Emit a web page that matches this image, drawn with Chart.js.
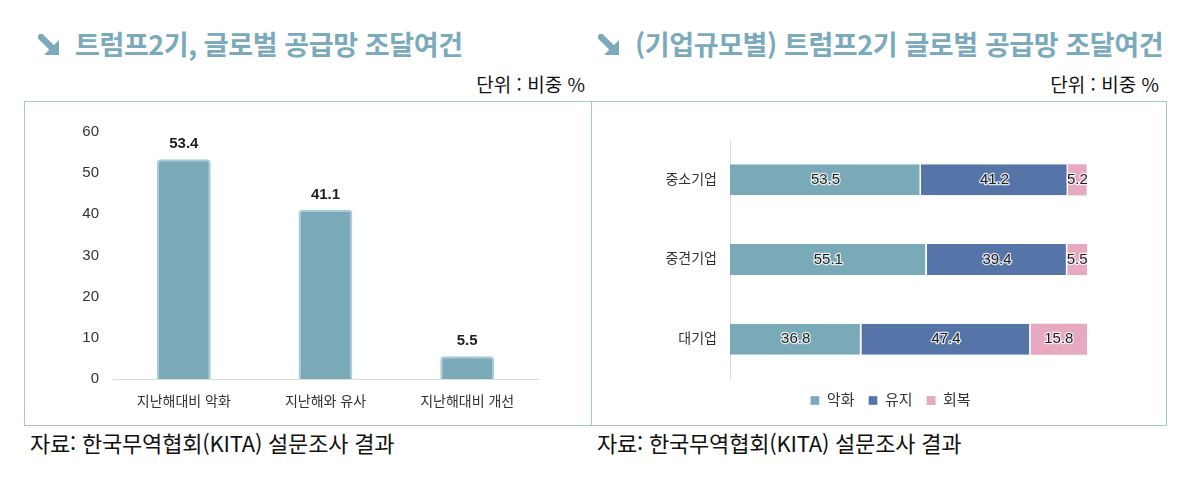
<!DOCTYPE html>
<html lang="ko">
<head>
<meta charset="utf-8">
<script src="https://cdn.jsdelivr.net/npm/chart.js@4.4.1/dist/chart.umd.min.js"></script>
<style>
  html, body { margin: 0; padding: 0; background: #fff; }
  body { width: 1200px; height: 485px; position: relative; overflow: hidden; font-family: "Noto Sans CJK KR", sans-serif; }
  .title { position: absolute; top: 24px; font-size: 27px; font-weight: 700; color: #7aaabb; letter-spacing: -0.4px; white-space: nowrap; }
  .title svg { position: absolute; left: -37px; top: 10px; }
  .unit { position: absolute; top: 70px; font-size: 19px; color: #111; white-space: nowrap; }
  .frame { position: absolute; left: 24px; top: 101px; width: 1141px; height: 323px; border: 1.5px solid #a3c8d4; }
  .divider { position: absolute; left: 591px; top: 101px; width: 0; height: 325px; border-left: 1.5px solid #a3c8d4; }
  .src { position: absolute; top: 426px; font-size: 22px; color: #111; white-space: nowrap; letter-spacing: -0.2px; }
  canvas { position: absolute; }
</style>
</head>
<body>

<div class="title" style="left:75px;">
  <svg width="22" height="22" viewBox="0 0 22 22"><path d="M3 3 L13 13" stroke="#7aaabb" stroke-width="6.5" stroke-linecap="square" fill="none"/><path d="M21 6 L21 21 L6 21 Z" fill="#7aaabb"/></svg>트럼프2기, 글로벌 공급망 조달여건</div>
<div class="title" style="left:635px;">
  <svg width="22" height="22" viewBox="0 0 22 22"><path d="M3 3 L13 13" stroke="#7aaabb" stroke-width="6.5" stroke-linecap="square" fill="none"/><path d="M21 6 L21 21 L6 21 Z" fill="#7aaabb"/></svg>(기업규모별) 트럼프2기 글로벌 공급망 조달여건</div>

<div class="unit" style="right:615px;">단위 : 비중 %</div>
<div class="unit" style="right:41px;">단위 : 비중 %</div>

<div class="frame"></div>
<div class="divider"></div>

<canvas id="leftChart" style="left:25px; top:102px;"></canvas>
<canvas id="rightChart" style="left:593px; top:102px;"></canvas>

<div class="src" style="left:30px;">자료: 한국무역협회(KITA) 설문조사 결과</div>
<div class="src" style="left:597px;">자료: 한국무역협회(KITA) 설문조사 결과</div>

<script>
// left chart: overall
const trendLabels = ['지난해대비 악화', '지난해와 유사', '지난해대비 개선'];
const trendValues = [53.4, 41.1, 5.5];
const yTicksLeft = [0, 10, 20, 30, 40, 50, 60];

// right chart: by company size
const sizeLabels = ['중소기업', '중견기업', '대기업'];
const worseValues = [53.5, 55.1, 36.8];
const sameValues = [41.2, 39.4, 47.4];
const betterValues = [5.2, 5.5, 15.8];
const seriesNames = ['악화', '유지', '회복'];

const FONT = '"Liberation Sans", "Noto Sans CJK KR", sans-serif';

function sizeCanvas(id, w, h) {
    const c = document.getElementById(id);
    c.width = w; c.height = h;
    c.style.width = w + 'px'; c.style.height = h + 'px';
    return c;
}

// draws value text over bars (no datalabels plugin available offline)
const valueLabels = {
    id: 'valueLabels',
    afterDatasetsDraw(chart, args, opts) {
        const ctx = chart.ctx;
        ctx.save();
        ctx.font = opts.font || ('15px ' + FONT);
        ctx.textAlign = 'center';
        ctx.textBaseline = 'middle';
        chart.data.datasets.forEach((ds, i) => {
            const meta = chart.getDatasetMeta(i);
            meta.data.forEach((bar, j) => {
                const txt = ds.data[j].toFixed(1);
                let x, y;
                if (opts.inside) {
                    x = (bar.x + bar.base) / 2;
                    y = bar.y;
                    ctx.lineWidth = 2.5;
                    ctx.strokeStyle = 'rgba(255,255,255,0.8)';
                    ctx.lineJoin = 'round';
                    ctx.strokeText(txt, x, y);
                } else {
                    x = bar.x;
                    y = bar.y - 15;
                }
                ctx.fillStyle = '#1e1e1e';
                ctx.fillText(txt, x, y);
            });
        });
        ctx.restore();
    }
};

sizeCanvas('leftChart', 565, 322);
new Chart(document.getElementById('leftChart'), {
    type: 'bar',
    data: {
        labels: trendLabels,
        datasets: [{
            data: trendValues,
            backgroundColor: '#7aaab8',
            borderColor: '#a8cbd6',
            borderWidth: 2,
            borderRadius: { topLeft: 4, topRight: 4 },
            borderSkipped: 'bottom',
            barPercentage: 0.38,
            categoryPercentage: 1
        }]
    },
    options: {
        responsive: false,
        animation: false,
        events: [],
        layout: { padding: { top: 30, right: 52, bottom: 0, left: 0 } },
        plugins: {
            legend: { display: false },
            tooltip: { enabled: false },
            valueLabels: { font: 'bold 15px ' + FONT }
        },
        scales: {
            y: {
                min: 0, max: 60,
                afterBuildTicks: s => { s.ticks = yTicksLeft.map(v => ({ value: v })); },
                afterFit: s => { s.width = 88; },
                grid: { display: false, drawTicks: false },
                border: { display: false },
                ticks: { font: { family: FONT, size: 15 }, color: '#333', padding: 14 }
            },
            x: {
                afterFit: s => { s.height = 45; },
                grid: { display: false, drawTicks: false },
                border: { color: '#dcdcdc', width: 1 },
                ticks: { font: { family: FONT, size: 14 }, color: '#333', padding: 15 }
            }
        }
    },
    plugins: [valueLabels]
});

sizeCanvas('rightChart', 573, 322);
const segBorder = { top: 0, bottom: 0, left: 0, right: 1.5 };
new Chart(document.getElementById('rightChart'), {
    type: 'bar',
    data: {
        labels: sizeLabels,
        datasets: [
            { label: seriesNames[0], data: worseValues, backgroundColor: '#7aaab8', borderColor: '#ffffff', borderWidth: segBorder, borderSkipped: false },
            { label: seriesNames[1], data: sameValues, backgroundColor: '#5575a9', borderColor: '#ffffff', borderWidth: segBorder, borderSkipped: false },
            { label: seriesNames[2], data: betterValues, backgroundColor: '#e7a9c0', borderColor: '#ffffff', borderWidth: 0 }
        ]
    },
    options: {
        indexAxis: 'y',
        responsive: false,
        animation: false,
        events: [],
        datasets: { bar: { barPercentage: 0.39, categoryPercentage: 1 } },
        layout: { padding: { top: 38, right: 0, bottom: 6, left: 22 } },
        plugins: {
            legend: {
                position: 'bottom',
                labels: {
                    boxWidth: 9, boxHeight: 9, padding: 14,
                    font: { family: FONT, size: 15 }, color: '#333'
                }
            },
            tooltip: { enabled: false },
            valueLabels: { inside: true, font: '15px ' + FONT }
        },
        scales: {
            x: { stacked: true, min: 0, max: 100, display: false },
            y: {
                stacked: true,
                afterFit: s => { s.width = 115; },
                grid: { display: false, drawTicks: false },
                border: { color: '#dcdcdc', width: 1 },
                ticks: { font: { family: FONT, size: 14 }, color: '#333', padding: 13 }
            },
            yRight: {
                position: 'right',
                afterFit: s => { s.width = 79; },
                grid: { display: false, drawTicks: false },
                border: { display: false },
                ticks: { display: false }
            }
        }
    },
    plugins: [valueLabels]
});
</script>
</body>
</html>
